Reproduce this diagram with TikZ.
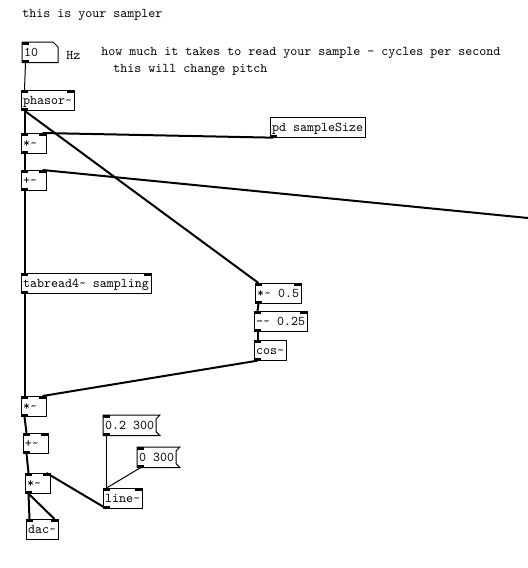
\documentclass[tikz,border=0pt]{standalone}
\usetikzlibrary{calc}
\newcommand\pdfont{\ttfamily\fontsize{10pt}{11pt}\selectfont}
\newcommand\tl{\textasciitilde}
\newcommand\pdin[1]{\fill (#1.north west) rectangle ++(7,2.5); \coordinate (#1-il) at ($(#1.north west)+(3.5,0)$);}
\newcommand\pdinr[1]{\fill (#1.north east) rectangle ++(-7,2.5); \coordinate (#1-ir) at ($(#1.north east)+(-3.5,0)$);}
\newcommand\pdout[1]{\fill (#1.south west) rectangle ++(7,-2.5); \coordinate (#1-o) at ($(#1.south west)+(3.5,0)$);}
\newcommand\msgshape[1]{\draw[line width=0.75pt] (#1.north west) -- ($(#1.north east)+(4,0)$) -- ($(#1.north east)+(0,4)$) -- ($(#1.south east)+(0,-4)$) -- ($(#1.south east)+(4,0)$) -- (#1.south west) -- cycle;}
\begin{document}
\begin{tikzpicture}[x=0.75pt,y=-0.75pt,
  obj/.style={draw, line width=0.75pt, inner xsep=1.5pt, inner ysep=0pt,
    text height=11pt, text depth=4.5pt, anchor=north west, outer sep=0pt, font=\pdfont},
  small/.style={text width=15.75pt, align=left},
  msg/.style={obj, draw=none},
  cmt/.style={anchor=west, inner sep=0pt, font=\pdfont},
  sig/.style={line width=1.5pt},
  ctl/.style={line width=0.75pt}]
\useasboundingbox (0,0) rectangle (528,568);
\fill[white] (0,0) rectangle (528,568);

% comments
\node[cmt] (title) at (22,15) {this is your sampler};
\node[cmt] (hz) at (66,55) {Hz};
\node[cmt] (c1) at (101,53) {how much it takes to read your sample - cycles per second};
\node[cmt] (c2) at (113,70) {this will change pitch};

% number box
\node[msg, text width=24pt, align=left] (num) at (22,42) {10};
\draw[line width=0.75pt] (num.north west) -- ($(num.north east)+(-5,0)$) -- ($(num.north east)+(0,5)$) -- (num.south east) -- (num.south west) -- cycle;
\pdin{num}\pdout{num}

% objects
\node[obj] (phasor) at (21,90) {phasor\tl};
\pdin{phasor}\pdinr{phasor}\pdout{phasor}
\node[obj, small] (mulA) at (21,133) {*\tl};
\pdin{mulA}\pdinr{mulA}\pdout{mulA}
\node[obj, small] (addA) at (21,170) {+\tl};
\pdin{addA}\pdinr{addA}\pdout{addA}
\node[obj] (pdss) at (270,117) {pd sampleSize};
\pdout{pdss}
\node[obj] (tab) at (21,273) {tabread4\tl{} sampling};
\pdin{tab}\pdinr{tab}\pdout{tab}
\node[obj] (mulh) at (255,283) {*\tl{} 0.5};
\pdin{mulh}\pdinr{mulh}\pdout{mulh}
\node[obj] (subq) at (254,311) {-\tl{} 0.25};
\pdin{subq}\pdinr{subq}\pdout{subq}
\node[obj] (cos) at (254,340) {cos\tl};
\pdin{cos}\pdout{cos}
\node[obj, small] (mulB) at (21,396) {*\tl};
\pdin{mulB}\pdinr{mulB}\pdout{mulB}
\node[obj, small] (addB) at (23,433) {+\tl};
\pdin{addB}\pdinr{addB}\pdout{addB}
\node[obj, small] (mulC) at (25,473) {*\tl};
\pdin{mulC}\pdinr{mulC}\pdout{mulC}
\node[obj] (dac) at (26,519) {dac\tl};
\pdin{dac}\pdinr{dac}
\node[msg] (msgA) at (103,415) {0.2 300};
\msgshape{msgA}\pdin{msgA}\pdout{msgA}
\node[msg] (msgB) at (137,447) {0 300};
\msgshape{msgB}\pdin{msgB}\pdout{msgB}
\node[obj] (line) at (103,488) {line\tl};
\pdin{line}\pdinr{line}\pdout{line}

\coordinate (offright) at (528,218);

% connections
\draw[ctl] (num-o) -- (phasor-il);
\draw[sig] (phasor-o) -- (mulA-il);
\draw[sig] (phasor-o) -- (mulh-il);
\draw[sig] (pdss-o) -- (mulA-ir);
\draw[sig] (mulA-o) -- (addA-il);
\draw[sig] (offright) -- (addA-ir);
\draw[sig] (addA-o) -- (tab-il);
\draw[sig] (tab-o) -- (mulB-il);
\draw[sig] (mulh-o) -- (subq-il);
\draw[sig] (subq-o) -- (cos-il);
\draw[sig] (cos-o) -- (mulB-ir);
\draw[sig] (mulB-o) -- (addB-il);
\draw[sig] (addB-o) -- (mulC-il);
\draw[sig] (mulC-o) -- (dac-il);
\draw[sig] (mulC-o) -- (dac-ir);
\draw[sig] (line-o) -- (mulC-ir);
\draw[ctl] (msgA-o) -- (line-il);
\draw[ctl] (msgB-o) -- (line-il);
\end{tikzpicture}
\end{document}
